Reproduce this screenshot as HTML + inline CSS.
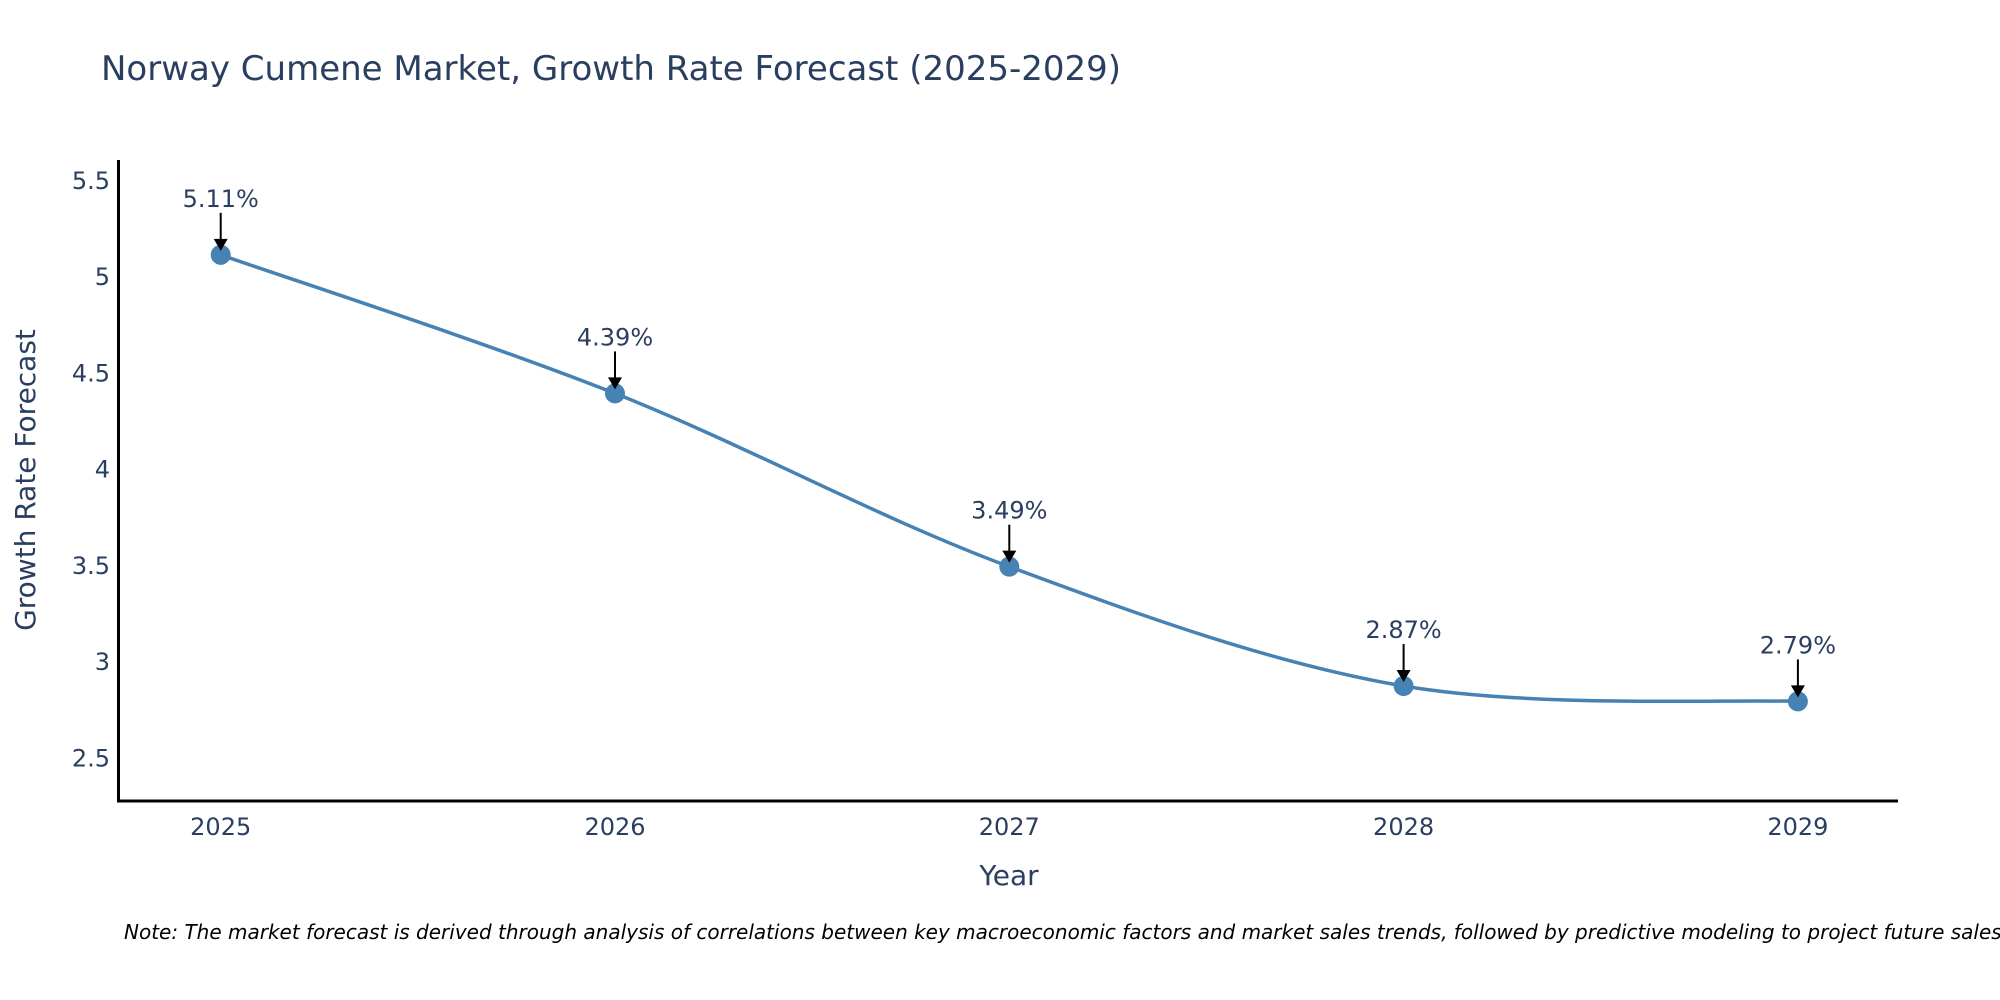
<!DOCTYPE html>
<html><head><meta charset="utf-8"><style>
body{margin:0;background:#fff;}
svg{display:block;font-family:"DejaVu Sans","Liberation Sans",sans-serif;}
</style></head><body>
<svg id="chart" width="2000" height="1000" viewBox="0 0 2000 1000" xmlns="http://www.w3.org/2000/svg">
<rect width="2000" height="1000" fill="#fff"/>
<text x="101" y="80" font-size="34" fill="#2a3f5f">Norway Cumene Market, Growth Rate Forecast (2025-2029)</text>
<g id="yticks"></g><g id="xticks"></g>
<line x1="118.5" y1="160" x2="118.5" y2="802" stroke="#000" stroke-width="3"/>
<line x1="117" y1="801" x2="1898" y2="801" stroke="#000" stroke-width="3"/>
<text transform="translate(35,480) rotate(-90)" text-anchor="middle" font-size="28" fill="#2a3f5f">Growth Rate Forecast</text>
<text x="1009" y="885" text-anchor="middle" font-size="28" fill="#2a3f5f">Year</text>
<g id="series"></g>
<text x="124" y="939" font-size="20" font-style="italic" fill="#000">Note: The market forecast is derived through analysis of correlations between key macroeconomic factors and market sales trends, followed by predictive modeling to project future sales</text>
</svg>
<script>
const years = ["2025","2026","2027","2028","2029"];
const growth = [5.11, 4.39, 3.49, 2.87, 2.79];
const yTickValues = [2.5, 3, 3.5, 4, 4.5, 5, 5.5];
const yTickLabels = ["2.5","3","3.5","4","4.5","5","5.5"];

const NS = "http://www.w3.org/2000/svg";
function xPos(i){ return 220.7 + i*394.3; }
function yPos(v){ return 276 - (v-5)*192.5; }
function mk(tag, attrs, parent){ const e=document.createElementNS(NS,tag); for(const k in attrs) e.setAttribute(k,attrs[k]); parent.appendChild(e); return e; }

const yt=document.getElementById('yticks');
yTickValues.forEach((v,i)=>{
  const t=mk('text',{x:110,y:yPos(v)+9,'text-anchor':'end','font-size':24,fill:'#2a3f5f'},yt);
  
  
  t.textContent=yTickLabels[i];
});
const xt=document.getElementById('xticks');
years.forEach((y,i)=>{
  const t=mk('text',{x:xPos(i),y:835,'text-anchor':'middle','font-size':24,fill:'#2a3f5f'},xt);
  
  
  t.textContent=y;
});

const g=document.getElementById('series');
const pts=growth.map((v,i)=>[xPos(i),yPos(v)]);
let d=`M${pts[0][0]},${pts[0][1]}`;
for(let i=0;i<pts.length-1;i++){
  const p0=pts[Math.max(0,i-1)],p1=pts[i],p2=pts[i+1],p3=pts[Math.min(pts.length-1,i+2)];
  const c1=[p1[0]+(p2[0]-p0[0])/6,p1[1]+(p2[1]-p0[1])/6];
  const c2=[p2[0]-(p3[0]-p1[0])/6,p2[1]-(p3[1]-p1[1])/6];
  d+=` C${c1[0]},${c1[1]} ${c2[0]},${c2[1]} ${p2[0]},${p2[1]}`;
}
const line=mk('path',{d:d,fill:'none',stroke:'#4682b4','stroke-width':3.5},g);


pts.forEach((p,i)=>{
  const c=mk('circle',{cx:p[0],cy:p[1],r:10,fill:'#4682b4'},g);
  
  
  const a=mk('line',{x1:p[0],y1:p[1]-42,x2:p[0],y2:p[1]-14,stroke:'#000','stroke-width':2},g);
  
  
  const h=mk('polygon',{points:`${p[0]-7},${p[1]-16} ${p[0]+7},${p[1]-16} ${p[0]},${p[1]-4}`,fill:'#000'},g);
  
  
  const t=mk('text',{x:p[0],y:p[1]-48,'text-anchor':'middle','font-size':24,fill:'#2a3f5f'},g);
  
  
  t.textContent=growth[i].toFixed(2)+'%';
});
</script>
</body></html>
